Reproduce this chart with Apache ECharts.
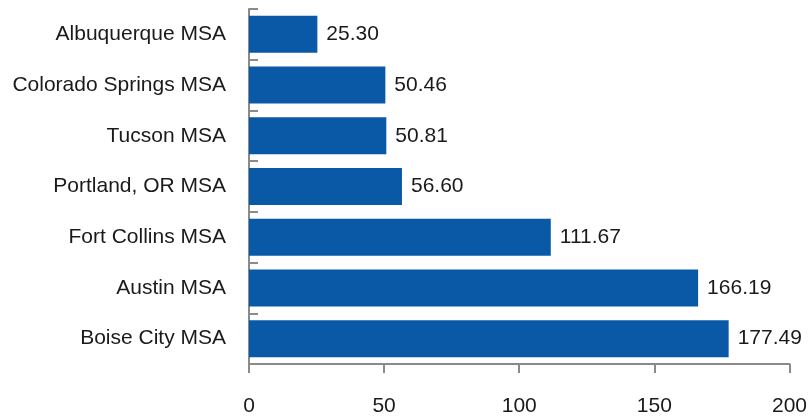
<!DOCTYPE html>
<html>
<head>
<meta charset="utf-8">
<script src="https://cdn.jsdelivr.net/npm/echarts@6/dist/echarts.min.js"></script>
<style>
  html, body { margin: 0; padding: 0; background: #ffffff; }
  #chart { width: 810px; height: 418px; }
</style>
</head>
<body>
<div id="chart"></div>
<script>
// Metro areas, listed bottom to top as the category axis draws them
const categories = [
  'Boise City MSA',
  'Austin MSA',
  'Fort Collins MSA',
  'Portland, OR MSA',
  'Tucson MSA',
  'Colorado Springs MSA',
  'Albuquerque MSA'
];
const values = [177.49, 166.19, 111.67, 56.60, 50.81, 50.46, 25.30];
const xTicks = [0, 50, 100, 150, 200];

const FONT = '"Liberation Sans Narrow", "Arial Narrow", "Liberation Sans", sans-serif';
const AXIS_GRAY = '#8a8a8a';
const TEXT = '#1a1a1a';

const chart = echarts.init(document.getElementById('chart'));
chart.setOption({
  animation: false,
  grid: { left: 249, right: 20, top: 9, bottom: 54, containLabel: false },
  xAxis: {
    type: 'value',
    min: xTicks[0],
    max: xTicks[xTicks.length - 1],
    interval: xTicks[1] - xTicks[0],
    axisLine: { show: true, lineStyle: { color: AXIS_GRAY, width: 2 } },
    axisTick: { show: true, length: 9, lineStyle: { color: AXIS_GRAY, width: 2 } },
    splitLine: { show: false },
    axisLabel: {
      margin: 32,
      color: TEXT,
      fontFamily: FONT,
      fontSize: 21
    }
  },
  yAxis: {
    type: 'category',
    data: categories,
    axisLine: { show: true, lineStyle: { color: AXIS_GRAY, width: 2 } },
    axisTick: { show: true, inside: true, length: 9, lineStyle: { color: AXIS_GRAY, width: 2 } },
    axisLabel: {
      margin: 23,
      color: TEXT,
      fontFamily: FONT,
      fontSize: 21
    }
  },
  series: [{
    type: 'bar',
    data: values,
    barCategoryGap: '27%',
    itemStyle: { color: '#0A59A6' },
    label: {
      show: true,
      position: 'right',
      distance: 9,
      color: TEXT,
      fontFamily: FONT,
      fontSize: 21,
      formatter: p => p.value.toFixed(2)
    }
  }]
});
</script>
</body>
</html>
